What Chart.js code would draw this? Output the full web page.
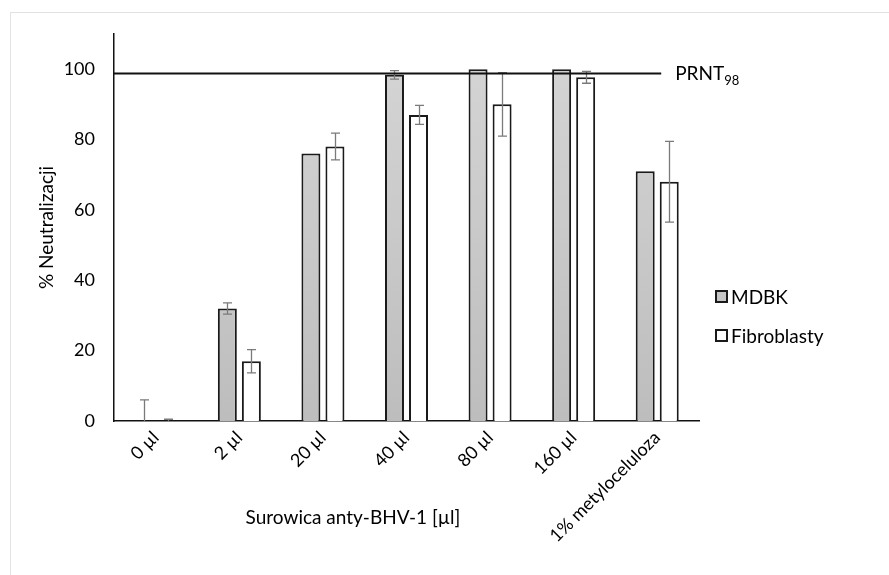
<!DOCTYPE html>
<html>
<head>
<meta charset="utf-8">
<script src="https://cdn.jsdelivr.net/npm/chart.js@4.4.1/dist/chart.umd.min.js"></script>
<style>
    html, body { margin: 0; padding: 0; background: #fff; overflow: hidden; }
    #wrap { position: relative; width: 889px; height: 575px; overflow: hidden; }
    #frame { position: absolute; left: 10px; top: 12px; width: 900px; height: 600px; border: 1px solid #e2e2e2; }
    canvas { position: absolute; left: 0; top: 0; }
</style>
</head>
<body>
<div id="wrap">
    <div id="frame"></div>
    <canvas id="chart" width="889" height="575"></canvas>
</div>
<script>
// Data
const categories = ['0 µl', '2 µl', '20 µl', '40 µl', '80 µl', '160 µl', '1% metyloceluloza'];
const mdbkValues = [0, 32, 76, 98.4, 100, 100, 71];
const mdbkErrors = [6, 1.6, 0, 1.2, 0, 0, 0];
const fibroValues = [0, 17, 78, 87, 90, 97.7, 68];
const fibroErrors = [0.5, 3.3, 3.8, 2.7, 9, 1.7, 11.5];
const seriesNames = ['MDBK', 'Fibroblasty'];
const prntLevel = 98.8;
const yTicks = [0, 20, 40, 60, 80, 100];

const FONT = 'Lato, "Open Sans", sans-serif';

// grey gradient fill for MDBK bars
function mdbkFill(ctx) {
    const area = ctx.chart.chartArea;
    if (!area) return '#c8c8c8';
    const g = ctx.chart.ctx.createLinearGradient(0, area.top, 0, area.bottom);
    g.addColorStop(0, '#d6d6d6');
    g.addColorStop(1, '#bdbdbd');
    return g;
}

// error bars, PRNT line, legend and x title
const extras = {
    id: 'extras',
    afterDatasetsDraw(chart) {
        const ctx = chart.ctx;
        const area = chart.chartArea;
        const y = chart.scales.y;
        const x = chart.scales.x;
        const errs = [mdbkErrors, fibroErrors];

        ctx.save();
        ctx.beginPath();
        ctx.rect(area.left, area.top - 10, area.right - area.left, area.bottom - area.top + 10);
        ctx.clip();
        ctx.strokeStyle = '#7a7a7a';
        ctx.lineWidth = 1.3;
        chart.data.datasets.forEach((ds, di) => {
            const meta = chart.getDatasetMeta(di);
            meta.data.forEach((bar, i) => {
                const e = errs[di][i];
                if (!e) return;
                const v = ds.data[i];
                const cx = Math.round(bar.x) + 0.5;
                const top = y.getPixelForValue(v + e);
                const bot = y.getPixelForValue(v - e);
                ctx.beginPath();
                ctx.moveTo(cx, top);
                ctx.lineTo(cx, bot);
                ctx.moveTo(cx - 4.5, top);
                ctx.lineTo(cx + 4.5, top);
                ctx.moveTo(cx - 4.5, bot);
                ctx.lineTo(cx + 4.5, bot);
                ctx.stroke();
            });
        });
        ctx.restore();

        // PRNT98 line
        const py = y.getPixelForValue(prntLevel);
        const pEnd = x.getPixelForValue(categories.length - 1) + 4;
        ctx.save();
        ctx.strokeStyle = '#111';
        ctx.lineWidth = 2;
        ctx.beginPath();
        ctx.moveTo(area.left, py);
        ctx.lineTo(pEnd, py);
        ctx.stroke();

        ctx.fillStyle = '#000';
        ctx.textBaseline = 'alphabetic';
        ctx.textAlign = 'left';
        ctx.font = '19px ' + FONT;
        const lx = pEnd + 14;
        ctx.fillText('PRNT', lx, py + 7);
        const w = ctx.measureText('PRNT').width;
        ctx.font = '13px ' + FONT;
        ctx.fillText('98', lx + w, py + 12);

        // legend
        const fills = ['#c6c6c6', '#ffffff'];
        const rows = [297, 336];
        ctx.font = '19px ' + FONT;
        ctx.textBaseline = 'middle';
        seriesNames.forEach((name, i) => {
            const by = rows[i];
            ctx.fillStyle = fills[i];
            ctx.fillRect(716, by - 6, 11, 11);
            ctx.strokeStyle = '#1a1a1a';
            ctx.lineWidth = 2;
            ctx.strokeRect(716, by - 6, 11, 11);
            ctx.fillStyle = '#000';
            ctx.fillText(name, 731, by + 1);
        });

        // x axis title
        ctx.textAlign = 'center';
        ctx.fillText('Surowica anty-BHV-1 [µl]', 353, 518);
        ctx.restore();
    }
};

new Chart(document.getElementById('chart'), {
    type: 'bar',
    data: {
        labels: categories,
        datasets: [{
            label: seriesNames[0],
            data: mdbkValues,
            backgroundColor: mdbkFill,
            borderColor: '#1a1a1a',
            borderWidth: 2,
            barPercentage: 0.79,
            categoryPercentage: 0.575
        }, {
            label: seriesNames[1],
            data: fibroValues,
            backgroundColor: '#ffffff',
            borderColor: '#1a1a1a',
            borderWidth: 2,
            barPercentage: 0.79,
            categoryPercentage: 0.575
        }]
    },
    options: {
        responsive: false,
        animation: false,
        layout: {
            padding: { left: 0, right: 190, top: 34, bottom: 0 }
        },
        plugins: {
            legend: { display: false },
            tooltip: { enabled: false }
        },
        scales: {
            x: {
                grid: { display: false, drawTicks: false },
                border: { display: true, color: '#111', width: 1.5 },
                ticks: {
                    color: '#000',
                    font: { family: FONT, size: 18 },
                    minRotation: 45,
                    maxRotation: 45,
                    padding: 6
                },
                afterFit(scale) { scale.height = 154; }
            },
            y: {
                min: 0,
                max: 110,
                grid: { display: false, drawTicks: false },
                border: { display: true, color: '#111', width: 1.5 },
                ticks: {
                    color: '#000',
                    font: { family: FONT, size: 18 },
                    stepSize: 20,
                    padding: 19
                },
                afterBuildTicks(scale) {
                    scale.ticks = yTicks.map(v => ({ value: v }));
                },
                title: {
                    display: true,
                    text: '% Neutralizacji',
                    color: '#000',
                    font: { family: FONT, size: 19 },
                    padding: { top: 35, bottom: 0 }
                },
                afterFit(scale) { scale.width = 114; }
            }
        }
    },
    plugins: [extras]
});
</script>
</body>
</html>
